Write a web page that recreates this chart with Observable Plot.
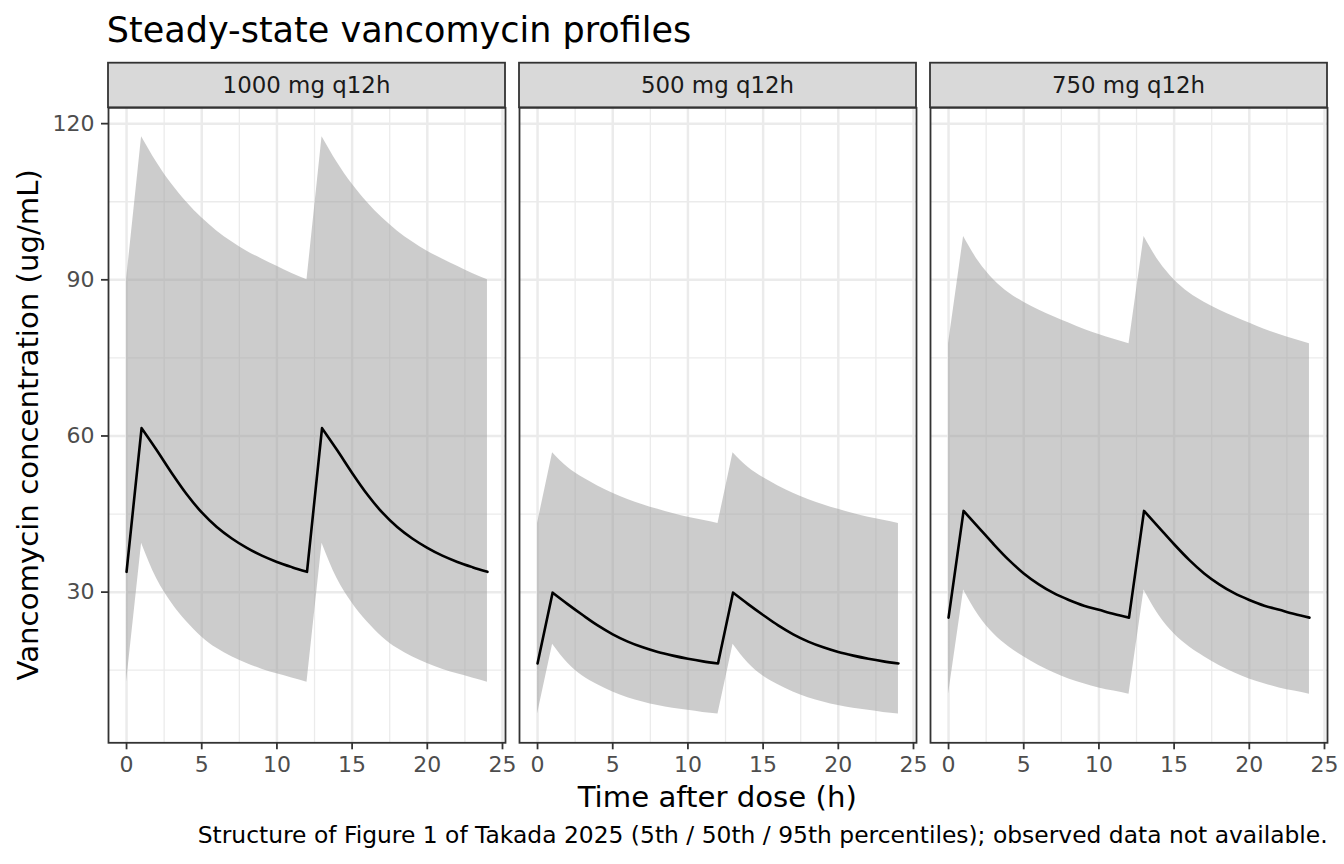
<!DOCTYPE html>
<html>
<head>
<meta charset="utf-8">
<script src="https://cdn.jsdelivr.net/npm/d3@7"></script>
<script src="https://cdn.jsdelivr.net/npm/@observablehq/plot@0.6"></script>
<style>
  body { margin: 0; background: #ffffff; }
  #wrap { width: 1344px; height: 864px; overflow: hidden; }
</style>
</head>
<body>
<div id="wrap"></div>
<script>
// ---------------- data ----------------
const regimens = ["1000 mg q12h", "500 mg q12h", "750 mg q12h"];
const times = [0,1,2,3,4,5,6,7,8,9,10,11,12,13,14,15,16,17,18,19,20,21,22,23,24];

const p05_1000 = [12.7,39.4,32.6,27.9,24.3,21.4,19.2,17.6,16.3,15.2,14.3,13.5,12.7,39.4,32.6,27.9,24.3,21.4,19.2,17.6,16.3,15.2,14.3,13.5,12.7];
const p50_1000 = [33.9,61.5,57.3,52.9,48.8,45.3,42.5,40.3,38.5,37.0,35.8,34.8,33.9,61.5,57.3,52.9,48.8,45.3,42.5,40.3,38.5,37.0,35.8,34.8,33.9];
const p95_1000 = [90.0,117.5,112.6,108.4,104.9,101.9,99.4,97.3,95.5,94.0,92.6,91.2,90.0,117.5,112.6,108.4,104.9,101.9,99.4,97.3,95.5,94.0,92.6,91.2,90.0];

const p05_500 = [6.6,20.0,16.4,13.9,12.2,10.8,9.7,8.9,8.2,7.7,7.3,6.9,6.6,20.0,16.4,13.9,12.2,10.8,9.7,8.9,8.2,7.7,7.3,6.9,6.6];
const p50_500 = [16.3,29.9,27.7,25.6,23.6,21.9,20.5,19.4,18.5,17.8,17.2,16.7,16.3,29.9,27.7,25.6,23.6,21.9,20.5,19.4,18.5,17.8,17.2,16.7,16.3];
const p95_500 = [43.2,56.8,54.0,52.0,50.4,49.0,47.8,46.8,45.9,45.1,44.4,43.8,43.2,56.8,54.0,52.0,50.4,49.0,47.8,46.8,45.9,45.1,44.4,43.8,43.2];

const p05_750 = [10.4,30.4,25.5,22.0,19.5,17.6,15.9,14.5,13.3,12.4,11.6,11.0,10.4,30.4,25.5,22.0,19.5,17.6,15.9,14.5,13.3,12.4,11.6,11.0,10.4];
const p50_750 = [25.1,45.6,42.4,39.2,36.2,33.6,31.5,29.8,28.5,27.4,26.6,25.8,25.1,45.6,42.4,39.2,36.2,33.6,31.5,29.8,28.5,27.4,26.6,25.8,25.1];
const p95_750 = [77.7,98.3,93.5,90.0,87.5,85.7,84.2,82.9,81.7,80.5,79.5,78.6,77.7,98.3,93.5,90.0,87.5,85.7,84.2,82.9,81.7,80.5,79.5,78.6,77.7];

const xTicks = [0, 5, 10, 15, 20, 25];
const xMinor = [2.5, 7.5, 12.5, 17.5, 22.5];
const yTicks = [30, 60, 90, 120];
const yMinor = [15, 45, 75, 105];

const titleText = "Steady-state vancomycin profiles";
const xLabel = "Time after dose (h)";
const yLabel = "Vancomycin concentration (ug/mL)";
const captionText = "Structure of Figure 1 of Takada 2025 (5th / 50th / 95th percentiles); observed data not available.";

// ---------------- table ----------------
const series = {
  "1000 mg q12h": [p05_1000, p50_1000, p95_1000],
  "500 mg q12h":  [p05_500,  p50_500,  p95_500],
  "750 mg q12h":  [p05_750,  p50_750,  p95_750]
};
const rows = [];
for (const r of regimens) {
  const [lo, mid, hi] = series[r];
  times.forEach((t, i) => rows.push({regimen: r, time: t, p05: lo[i], p50: mid[i], p95: hi[i]}));
}

// ggplot-like 5% expansion
function expand(ext) { const d = ext[1] - ext[0]; return [ext[0] - 0.05 * d, ext[1] + 0.05 * d]; }
const xDomain = expand(d3.extent(times));
const yDomain = expand([d3.min(rows, d => d.p05), d3.max(rows, d => d.p95)]);

// Curve: monotone cubic within each monotone run, sharp corners at the
// peaks/troughs (linear infusion rise, smooth decay), usable for lines and areas.
function curvePiecewiseMonotone(context) {
  let pts = [], line = NaN;
  const proxy = {
    moveTo() {},
    lineTo(x, y) { context.lineTo(x, y); },
    bezierCurveTo(a, b, c, d, e, f) { context.bezierCurveTo(a, b, c, d, e, f); },
    closePath() {}
  };
  function drawRun(run) {
    if (run.length < 2) return;
    const c = d3.curveMonotoneX(proxy);
    c.lineStart();
    for (const p of run) c.point(p[0], p[1]);
    c.lineEnd();
  }
  return {
    areaStart() { line = 0; },
    areaEnd() { line = NaN; },
    lineStart() { pts = []; },
    point(x, y) { pts.push([+x, +y]); },
    lineEnd() {
      const n = pts.length;
      if (n) {
        if (line) context.lineTo(pts[0][0], pts[0][1]);
        else context.moveTo(pts[0][0], pts[0][1]);
        let start = 0;
        for (let i = 1; i < n; i++) {
          const brk = i === n - 1 ||
            Math.sign(pts[i][1] - pts[i - 1][1]) !== Math.sign(pts[i + 1][1] - pts[i][1]);
          if (brk) { drawRun(pts.slice(start, i + 1)); start = i; }
        }
        if (line === 1) context.closePath();
      }
      line = 1 - line;
    }
  };
}

// ---------------- layout ----------------
const W = 1344, H = 864;
const mLeft = 106.8, mRight = 16.3, mTop = 107.3, mBottom = 121.7;
const stripTop = 62.7;
const tickColor = "#333333", tickText = "#4D4D4D";

const chart = Plot.plot({
  width: W, height: H,
  marginLeft: mLeft, marginRight: mRight, marginTop: mTop, marginBottom: mBottom,
  style: {fontFamily: "'DejaVu Sans', sans-serif", background: "#ffffff", overflow: "visible"},
  fx: {domain: regimens, padding: 0.0345, axis: null, label: null},
  x: {domain: xDomain, label: null},
  y: {domain: yDomain, label: null},
  marks: [
    Plot.gridX(xMinor, {stroke: "#EBEBEB", strokeOpacity: 1, strokeWidth: 1.3}),
    Plot.gridY(yMinor, {stroke: "#EBEBEB", strokeOpacity: 1, strokeWidth: 1.3}),
    Plot.gridX(xTicks, {stroke: "#EBEBEB", strokeOpacity: 1, strokeWidth: 2.5}),
    Plot.gridY(yTicks, {stroke: "#EBEBEB", strokeOpacity: 1, strokeWidth: 2.5}),
    Plot.areaY(rows, {fx: "regimen", x: "time", y1: "p05", y2: "p95", fill: "#999999", fillOpacity: 0.5, curve: curvePiecewiseMonotone}),
    Plot.lineY(rows, {fx: "regimen", x: "time", y: "p50", stroke: "#000000", strokeWidth: 2.6, curve: curvePiecewiseMonotone}),
    Plot.frame({stroke: "#333333", strokeWidth: 1.8}),
    Plot.axisX(xTicks, {tickSize: 7, tickPadding: 7, fontSize: 22, stroke: tickColor, strokeWidth: 1.8, fill: tickText, label: null}),
    Plot.axisY(yTicks, {tickSize: 7, tickPadding: 7, fontSize: 22, stroke: tickColor, strokeWidth: 1.8, fill: tickText, label: null})
  ]
});

const svg = d3.select(chart);
const fx = chart.scale("fx");
const bw = fx.bandwidth;

// facet strips
for (const r of regimens) {
  const x0 = fx.apply(r);
  svg.append("rect")
    .attr("x", x0).attr("y", stripTop)
    .attr("width", bw).attr("height", mTop - stripTop)
    .attr("fill", "#D9D9D9").attr("stroke", "#333333").attr("stroke-width", 1.8);
  svg.append("text")
    .attr("x", x0 + bw / 2).attr("y", 92.7)
    .attr("text-anchor", "middle")
    .attr("font-size", 22.9).attr("fill", "#1A1A1A")
    .text(r);
}

// title
svg.append("text")
  .attr("x", mLeft).attr("y", 42)
  .attr("text-anchor", "start")
  .attr("font-size", 35).attr("fill", "#000000")
  .text(titleText);

// x axis title
svg.append("text")
  .attr("x", (mLeft + W - mRight) / 2).attr("y", 807.3)
  .attr("text-anchor", "middle")
  .attr("font-size", 29.2).attr("fill", "#000000")
  .text(xLabel);

// y axis title
svg.append("text")
  .attr("transform", `translate(38.3,${(mTop + H - mBottom) / 2}) rotate(-90)`)
  .attr("text-anchor", "middle")
  .attr("font-size", 29.2).attr("fill", "#000000")
  .text(yLabel);

// caption
svg.append("text")
  .attr("x", W - mRight).attr("y", 843.3)
  .attr("text-anchor", "end")
  .attr("font-size", 23.4).attr("fill", "#000000")
  .text(captionText);

document.getElementById("wrap").appendChild(chart);
</script>
</body>
</html>
